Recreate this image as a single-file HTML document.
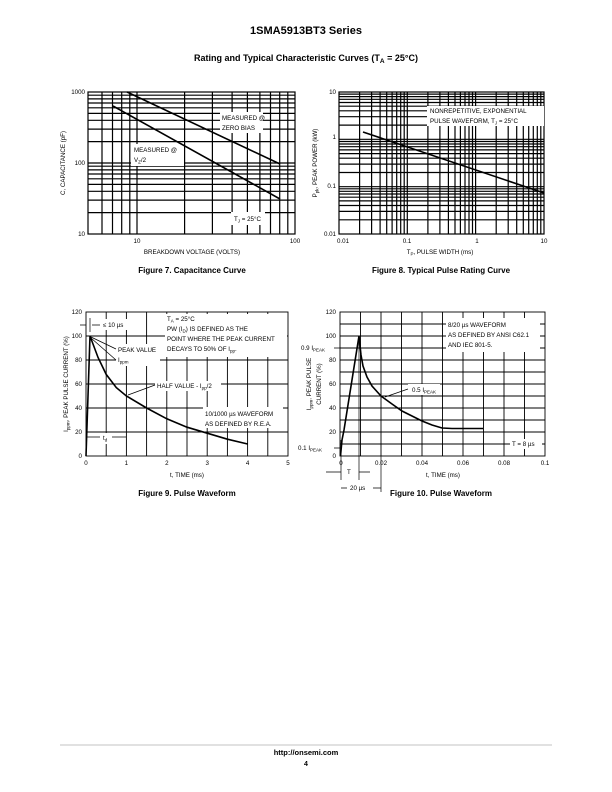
<!DOCTYPE html>
<html><head><meta charset="utf-8"><style>
body{margin:0;background:#fff;}
svg{display:block;font-family:"Liberation Sans",Arial,sans-serif;}
.t{font-size:6.2px;fill:#000}
.c{font-size:8px;font-weight:bold;fill:#000}
.g{stroke:#000;stroke-width:1.2;fill:none}
.g2{stroke:#000;stroke-width:0.9;fill:none}
.cv{stroke:#000;stroke-width:1.6;fill:none}
.a{stroke:#000;stroke-width:0.7;fill:none}
</style></head><body>
<svg width="612" height="792" viewBox="0 0 612 792">
<text x="306" y="34" text-anchor="middle" style="font-size:11px;font-weight:bold">1SMA5913BT3 Series</text>
<text x="306" y="61" text-anchor="middle" style="font-size:9px;font-weight:bold">Rating and Typical Characteristic Curves (T<tspan style="font-size:6.5px" dy="2">A</tspan><tspan dy="-2"> = 25°C)</tspan></text>

<!-- FIG 7 -->
<rect x="88" y="92" width="207" height="142" class="g"/>
<path class="g" d="M102,92V234M112.5,92V234M121.7,92V234M129.8,92V234M137,92V234M184.6,92V234M212.4,92V234M232.1,92V234M247.4,92V234M259.9,92V234M270.5,92V234M279.7,92V234M287.8,92V234
M88,212.6H295M88,200.1H295M88,191.3H295M88,184.4H295M88,178.8H295M88,174H295M88,169.9H295M88,166.2H295M88,163H295
M88,141.6H295M88,129.1H295M88,120.3H295M88,113.4H295M88,107.8H295M88,103H295M88,98.9H295M88,95.2H295"/>
<rect x="220" y="112" width="43" height="21" fill="#fff"/>
<rect x="131" y="144" width="53" height="22" fill="#fff"/>
<rect x="231" y="212" width="34" height="13" fill="#fff"/>
<path class="cv" d="M127,92L280,164M113,106L280,199"/>
<text class="t" x="222" y="120">MEASURED @</text>
<text class="t" x="222" y="130">ZERO BIAS</text>
<text class="t" x="134" y="152">MEASURED @</text>
<text class="t" x="134" y="162">V<tspan style="font-size:4.5px" dy="1.5">Z</tspan><tspan dy="-1.5">/2</tspan></text>
<text class="t" x="234" y="221">T<tspan style="font-size:4.5px" dy="1.5">J</tspan><tspan dy="-1.5"> = 25°C</tspan></text>
<text class="t" x="85" y="94" text-anchor="end">1000</text>
<text class="t" x="85" y="165" text-anchor="end">100</text>
<text class="t" x="85" y="236" text-anchor="end">10</text>
<text class="t" x="137" y="243" text-anchor="middle">10</text>
<text class="t" x="295" y="243" text-anchor="middle">100</text>
<text class="t" x="192" y="254" text-anchor="middle">BREAKDOWN VOLTAGE (VOLTS)</text>
<text class="t" transform="translate(65,163) rotate(-90)" text-anchor="middle">C, CAPACITANCE (pF)</text>
<text class="c" x="192" y="273" text-anchor="middle">Figure 7. Capacitance Curve</text>

<!-- FIG 8 -->
<rect x="339" y="92" width="205" height="142" class="g"/>
<path class="g" d="M359.6,92V234M371.6,92V234M380.1,92V234M386.7,92V234M392.1,92V234M396.7,92V234M400.7,92V234M404.2,92V234M407.3,92V234
M427.9,92V234M439.9,92V234M448.4,92V234M455,92V234M460.4,92V234M465,92V234M469,92V234M472.5,92V234M475.6,92V234
M496.2,92V234M508.2,92V234M516.7,92V234M523.3,92V234M528.7,92V234M533.3,92V234M537.3,92V234M540.8,92V234
M339,219.8H544M339,211.4H544M339,205.5H544M339,200.9H544M339,197.2H544M339,194H544M339,191.3H544M339,188.8H544M339,186.7H544
M339,172.5H544M339,164.1H544M339,158.2H544M339,153.6H544M339,149.9H544M339,146.7H544M339,144H544M339,141.5H544M339,139.3H544
M339,125.1H544M339,116.7H544M339,110.8H544M339,106.2H544M339,102.5H544M339,99.3H544M339,96.6H544M339,94.1H544"/>
<rect x="427" y="106" width="117" height="20" fill="#fff"/>
<path class="cv" d="M363,132L544,193"/>
<text class="t" x="430" y="113">NONREPETITIVE, EXPONENTIAL</text>
<text class="t" x="430" y="123">PULSE WAVEFORM, T<tspan style="font-size:4.5px" dy="1.5">J</tspan><tspan dy="-1.5"> = 25°C</tspan></text>
<text class="t" x="336" y="94" text-anchor="end">10</text>
<text class="t" x="336" y="139" text-anchor="end">1</text>
<text class="t" x="336" y="188" text-anchor="end">0.1</text>
<text class="t" x="336" y="236" text-anchor="end">0.01</text>
<text class="t" x="343" y="243" text-anchor="middle">0.01</text>
<text class="t" x="407" y="243" text-anchor="middle">0.1</text>
<text class="t" x="477" y="243" text-anchor="middle">1</text>
<text class="t" x="544" y="243" text-anchor="middle">10</text>
<text class="t" x="440" y="254" text-anchor="middle">T<tspan style="font-size:4.5px" dy="1.5">P</tspan><tspan dy="-1.5">, PULSE WIDTH (ms)</tspan></text>
<text class="t" transform="translate(317,163) rotate(-90)" text-anchor="middle">P<tspan style="font-size:4.5px" dy="1.5">pk</tspan><tspan dy="-1.5">, PEAK POWER (kW)</tspan></text>
<text class="c" x="441" y="273" text-anchor="middle">Figure 8. Typical Pulse Rating Curve</text>

<!-- FIG 9 -->
<rect x="86" y="312" width="202" height="144" class="g2"/>
<path class="g2" d="M106.2,312V456M126.4,312V456M146.6,312V456M166.8,312V456M187,312V456M207.2,312V456M227.4,312V456M247.6,312V456M267.8,312V456
M86,432H288M86,408H288M86,384H288M86,360H288M86,336H288"/>
<rect x="165" y="314" width="122" height="43" fill="#fff"/>
<rect x="101" y="319" width="32" height="11" fill="#fff"/>
<rect x="116" y="344" width="44" height="22" fill="#fff"/>
<rect x="155" y="381" width="66" height="10" fill="#fff"/>
<rect x="203" y="407" width="80" height="21" fill="#fff"/>
<rect x="100" y="433" width="12" height="11" fill="#fff"/>
<path class="cv" d="M86,456L90,336L98.1,357.6L106.2,374.4L116.3,387.6L126.4,396L146.6,408L166.8,418.8L187,427.2L207.2,433.2L227.4,439.2L247.6,444"/>
<path class="a" d="M80,325H86M92,325H100M116,349L91,337M116,360L91,338M155,385L128,395M86,437H100M112,437H126M90,318V332"/>
<text class="t" x="103" y="327">≤ 10 µs</text>
<text class="t" x="167" y="321">T<tspan style="font-size:4.5px" dy="1.5">A</tspan><tspan dy="-1.5"> = 25°C</tspan></text>
<text class="t" x="167" y="331">PW (I<tspan style="font-size:4.5px" dy="1.5">D</tspan><tspan dy="-1.5">) IS DEFINED AS THE</tspan></text>
<text class="t" x="167" y="341">POINT WHERE THE PEAK CURRENT</text>
<text class="t" x="167" y="351">DECAYS TO 50% OF I<tspan style="font-size:4.5px" dy="1.5">pp</tspan><tspan dy="-1.5">.</tspan></text>
<text class="t" x="118" y="352">PEAK VALUE</text>
<text class="t" x="118" y="362">I<tspan style="font-size:4.5px" dy="1.5">ppm</tspan></text>
<text class="t" x="157" y="388">HALF VALUE - I<tspan style="font-size:4.5px" dy="1.5">pp</tspan><tspan dy="-1.5">/2</tspan></text>
<text class="t" x="205" y="416">10/1000 µs WAVEFORM</text>
<text class="t" x="205" y="426">AS DEFINED BY R.E.A.</text>
<text class="t" x="103" y="440">t<tspan style="font-size:4.5px" dy="1.5">d</tspan></text>
<g class="t" text-anchor="end"><text x="82" y="458">0</text><text x="82" y="434">20</text><text x="82" y="410">40</text><text x="82" y="386">60</text><text x="82" y="362">80</text><text x="82" y="338">100</text><text x="82" y="314">120</text></g>
<g class="t" text-anchor="middle"><text x="86" y="465">0</text><text x="126.4" y="465">1</text><text x="166.8" y="465">2</text><text x="207.2" y="465">3</text><text x="247.6" y="465">4</text><text x="288" y="465">5</text></g>
<text class="t" x="187" y="477" text-anchor="middle">t, TIME (ms)</text>
<text class="t" transform="translate(68,384) rotate(-90)" text-anchor="middle">I<tspan style="font-size:4.5px" dy="1.5">ppm</tspan><tspan dy="-1.5">, PEAK PULSE CURRENT (%)</tspan></text>
<text class="c" x="187" y="496" text-anchor="middle">Figure 9. Pulse Waveform</text>

<!-- FIG 10 -->
<rect x="340" y="312" width="205" height="144" class="g2"/>
<path class="g2" d="M360.5,312V456M381,312V456M401.5,312V456M422,312V456M442.5,312V456M463,312V456M483.5,312V456M504,312V456M524.5,312V456
M340,444H545M340,432H545M340,420H545M340,408H545M340,396H545M340,384H545M340,372H545M340,360H545M340,348H545M340,336H545M340,324H545"/>
<rect x="446" y="318" width="94" height="34" fill="#fff"/>
<rect x="408" y="384" width="32" height="11" fill="#fff"/>
<rect x="510" y="439" width="32" height="10" fill="#fff"/>
<path class="cv" d="M340.5,456L342,440L344,430L359,336L361,355L363,366L367,377L372,386L381,396L392,404L402,411L412,416L422,421L432,425L442,428L452,428.5L483,428.5"/>
<path class="a" d="M341,440V480M359,336V480M381,456V492M334,348H354M334,448H340M408,389L385,397M326,472H341M359,472H370M341,488H347M373,488H381"/>
<text class="t" x="448" y="327">8/20 µs WAVEFORM</text>
<text class="t" x="448" y="337">AS DEFINED BY ANSI C62.1</text>
<text class="t" x="448" y="347">AND IEC 801-5.</text>
<text class="t" x="412" y="392">0.5 I<tspan style="font-size:4.5px" dy="1.5">PEAK</tspan></text>
<text class="t" x="512" y="446">T = 8 µs</text>
<text class="t" x="301" y="350">0.9 I<tspan style="font-size:4.5px" dy="1.5">PEAK</tspan></text>
<text class="t" x="298" y="450">0.1 I<tspan style="font-size:4.5px" dy="1.5">PEAK</tspan></text>
<text class="t" x="347" y="474">T</text>
<text class="t" x="350" y="490">20 µs</text>
<g class="t" text-anchor="end"><text x="336" y="458">0</text><text x="336" y="434">20</text><text x="336" y="410">40</text><text x="336" y="386">60</text><text x="336" y="362">80</text><text x="336" y="338">100</text><text x="336" y="314">120</text></g>
<g class="t" text-anchor="middle"><text x="341" y="465">0</text><text x="381" y="465">0.02</text><text x="422" y="465">0.04</text><text x="463" y="465">0.06</text><text x="504" y="465">0.08</text><text x="545" y="465">0.1</text></g>
<text class="t" x="443" y="477" text-anchor="middle">t, TIME (ms)</text>
<text class="t" transform="translate(311,384) rotate(-90)" text-anchor="middle">I<tspan style="font-size:4.5px" dy="1.5">ppm</tspan><tspan dy="-1.5">, PEAK PULSE</tspan></text>
<text class="t" transform="translate(321,384) rotate(-90)" text-anchor="middle">CURRENT (%)</text>
<text class="c" x="441" y="496" text-anchor="middle">Figure 10. Pulse Waveform</text>

<!-- footer -->
<line x1="60" y1="745" x2="552" y2="745" stroke="#888" stroke-width="0.6"/>
<text x="306" y="755" text-anchor="middle" style="font-size:7.5px;font-weight:bold">http://onsemi.com</text>
<text x="306" y="766" text-anchor="middle" style="font-size:7px;font-weight:bold">4</text>
</svg>
</body></html>
